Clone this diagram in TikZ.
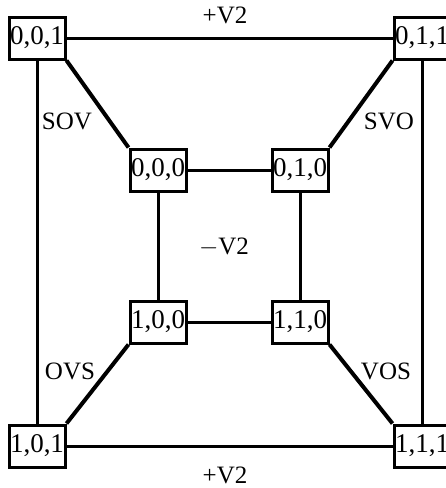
\documentclass[tikz,border=0pt]{standalone}
\usepackage{fontspec}
\setmainfont{Liberation Serif}
\begin{document}
\begin{tikzpicture}[x=1pt,y=-1pt,
  vbox/.style={draw,line width=3pt,fill=white,inner sep=0pt,minimum width=56pt,minimum height=42pt,font=\fontsize{27}{30}\selectfont},
  lab/.style={inner sep=0pt,font=\fontsize{25}{28}\selectfont},
  edge/.style={line width=3pt},
  diag/.style={line width=4pt}]
\useasboundingbox (0,0) rectangle (446,488);
\node[vbox] (n001) at (37,38) {0,0,1};
\node[vbox] (n011) at (422,38) {0,1,1};
\node[vbox] (n000) at (158,170) {0,0,0};
\node[vbox] (n010) at (300,170) {0,1,0};
\node[vbox] (n100) at (158,322) {1,0,0};
\node[vbox] (n110) at (300,322) {1,1,0};
\node[vbox] (n101) at (37,446) {1,0,1};
\node[vbox] (n111) at (422,446) {1,1,1};
\draw[edge] (n001) -- (n011);
\draw[edge] (n101) -- (n111);
\draw[edge] (n001) -- (n101);
\draw[edge] (n011) -- (n111);
\draw[edge] (n000) -- (n010);
\draw[edge] (n100) -- (n110);
\draw[edge] (n000) -- (n100);
\draw[edge] (n010) -- (n110);
\draw[diag] (n001.south east) -- (n000.north west);
\draw[diag] (n011.south west) -- (n010.north east);
\draw[diag] (n101.north east) -- (n100.south west);
\draw[diag] (n111.north west) -- (n110.south east);
\node[lab] (tV) at (225,15) {+V2};
\node[lab] (bV) at (225,475) {+V2};
\node[lab] (mV) at (224,247) {$-$V2};
\node[lab] (sov) at (67,121) {SOV};
\node[lab] (svo) at (389,121) {SVO};
\node[lab] (ovs) at (70,371) {OVS};
\node[lab] (vos) at (386,371) {VOS};
\end{tikzpicture}
\end{document}
